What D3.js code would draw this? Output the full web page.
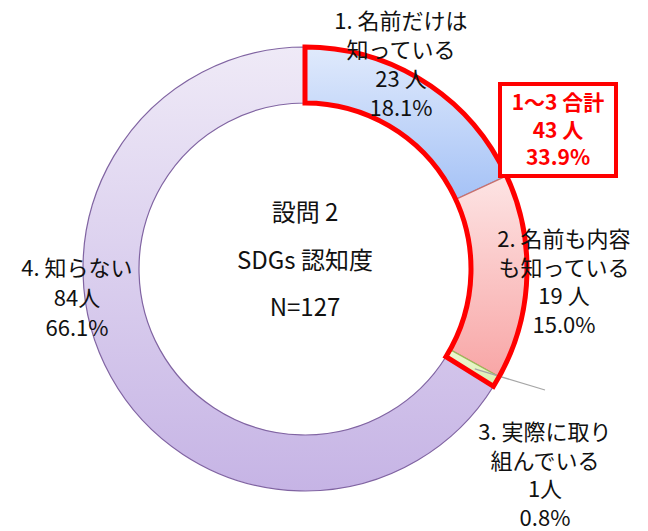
<!doctype html>
<html lang="ja">
<head>
    <meta charset="utf-8" />
    <title>設問2 SDGs 認知度</title>
    <style>
        html, body { margin: 0; padding: 0; background: #fff; }
        svg { display: block; font-family: "Noto Sans CJK JP", sans-serif; }
    </style>
</head>
<body>
    <svg id="chart"></svg>

    <script src="https://cdn.jsdelivr.net/npm/d3@7/dist/d3.min.js"></script>
    <script>
        // data
        const categories = ["1. 名前だけは|知っている", "2. 名前も内容|も知っている", "3. 実際に取り|組んでいる", "4. 知らない"];
        const counts = [23, 19, 1, 84];
        const unitText = [" 人", " 人", "人", "人"];
        const centerLines = ["設問 2", "SDGs 認知度", "N=127"];
        const groupIdx = [0, 1, 2]; // 1～3 合計

        const width = 648, height = 531;
        const cx = 305, cy = 269, rOut = 222, rIn = 166;

        // fill gradients (top, bottom) and strokes per slice
        const fills = [["#e0eafc", "#a5c2f6"], ["#fde4e4", "#f8a6a6"], ["#eef8d4", "#dcefb0"], ["#efeaf7", "#c6b4e5"]];
        const strokes = ["#7d9bd6", "#c9706d", "#9bbb59", "#8064a2"];
        // label anchors (first-line baseline, centre x) and line spacing
        const labelPos = [[401, 29], [564, 247], [545, 440], [77, 276]];
        const lineH = [29, 28.7, 28.7, 30];

        const svg = d3.select("#chart")
            .attr("width", width)
            .attr("height", height);

        const defs = svg.append("defs");
        fills.forEach((f, i) => {
            const g = defs.append("linearGradient")
                .attr("id", `grad-${i}`)
                .attr("x1", 0).attr("y1", 0).attr("x2", 0).attr("y2", 1);
            g.append("stop").attr("offset", "0%").attr("stop-color", f[0]);
            g.append("stop").attr("offset", "100%").attr("stop-color", f[1]);
        });

        const total = d3.sum(counts);
        const pct = d3.format(".1f");

        const pie = d3.pie().sort(null).value(d => d)
            .startAngle(0).endAngle(2 * Math.PI);
        const arcs = pie(counts);
        const arc = d3.arc().innerRadius(rIn).outerRadius(rOut);

        const ring = svg.append("g").attr("transform", `translate(${cx},${cy})`);

        ring.selectAll("path.slice")
            .data(arcs)
            .join("path")
            .attr("class", "slice")
            .attr("d", arc)
            .attr("fill", (d, i) => `url(#grad-${i})`)
            .attr("stroke", (d, i) => strokes[i])
            .attr("stroke-width", 1.2);

        // leader line for slice 3
        const a3 = (arcs[2].startAngle + arcs[2].endAngle) / 2;
        const rL = rIn + 31;
        ring.append("line")
            .attr("x1", rL * Math.sin(a3)).attr("y1", -rL * Math.cos(a3))
            .attr("x2", labelPos[2][0] - cx).attr("y2", labelPos[2][1] - 50 - cy)
            .attr("stroke", "#a6a6a6")
            .attr("stroke-width", 1.3);

        // red outline round slices 1-3
        const grpEnd = arcs[groupIdx[groupIdx.length - 1]].endAngle;
        ring.append("path")
            .attr("d", arc({ startAngle: 0, endAngle: grpEnd }))
            .attr("fill", "none")
            .attr("stroke", "#ff0000")
            .attr("stroke-width", 5)
            .attr("stroke-linejoin", "miter");

        // slice labels, one text per line
        categories.forEach((c, i) => {
            const lines = c.split("|").concat([counts[i] + unitText[i], pct(counts[i] / total * 100) + "%"]);
            svg.append("g")
                .attr("text-anchor", "middle")
                .attr("font-size", 22)
                .attr("fill", "#111")
                .selectAll("text")
                .data(lines)
                .join("text")
                .attr("x", labelPos[i][0])
                .attr("y", (d, j) => labelPos[i][1] + j * lineH[i])
                .text(d => d);
        });

        // centre title
        svg.append("g")
            .attr("text-anchor", "middle")
            .attr("font-size", 24)
            .attr("fill", "#111")
            .selectAll("text")
            .data(centerLines)
            .join("text")
            .attr("x", cx)
            .attr("y", (d, i) => 221 + i * 47.5)
            .text(d => d);

        // 1～3 合計 box
        const grpSum = d3.sum(groupIdx, i => counts[i]);
        const box = svg.append("g");
        box.append("rect")
            .attr("x", 500).attr("y", 84)
            .attr("width", 116).attr("height", 92)
            .attr("fill", "#fff")
            .attr("stroke", "#ff0000")
            .attr("stroke-width", 4);
        box.append("g")
            .attr("text-anchor", "middle")
            .attr("font-size", 21)
            .attr("font-weight", "bold")
            .attr("fill", "#ff0000")
            .selectAll("text")
            .data(["1～3 合計", grpSum + " 人", pct(grpSum / total * 100) + "%"])
            .join("text")
            .attr("x", 558)
            .attr("y", (d, i) => 110 + i * 27.5)
            .text(d => d);
    </script>
</body>
</html>
